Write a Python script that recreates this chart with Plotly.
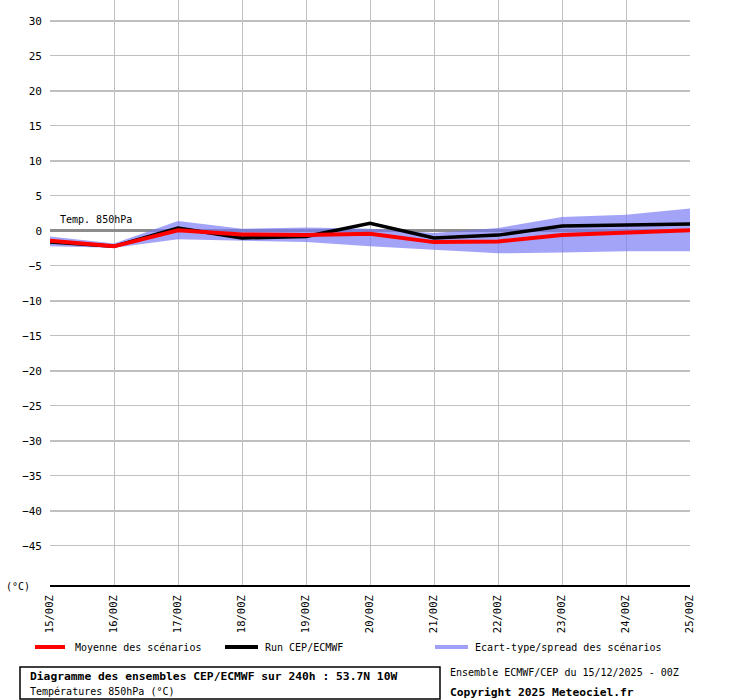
import plotly.graph_objects as go

# echeances (jours a 00Z)
jours = ["15/00Z", "16/00Z", "17/00Z", "18/00Z", "19/00Z", "20/00Z",
         "21/00Z", "22/00Z", "23/00Z", "24/00Z", "25/00Z"]

# temperatures 850hPa (degC)
moyenne = [-1.4, -2.2, 0.1, -0.5, -0.6, -0.4, -1.6, -1.5, -0.6, -0.2, 0.1]
run_cep = [-1.6, -2.2, 0.4, -1.0, -0.8, 1.1, -1.0, -0.6, 0.7, 0.8, 1.0]
spread_haut = [-0.8, -1.8, 1.4, 0.3, 0.5, 0.3, -0.3, 0.4, 2.0, 2.3, 3.2]
spread_bas = [-2.2, -2.4, -1.2, -1.4, -1.6, -2.2, -2.7, -3.2, -3.1, -2.9, -2.9]

yticks = list(range(-45, 31, 5))
yticks10 = list(range(-40, 31, 10))

police = "DejaVu Sans Mono"

fig = go.Figure()

# bande ecart-type
fig.add_trace(go.Scatter(x=jours, y=spread_bas, mode="lines", line=dict(width=0),
                         hoverinfo="skip", showlegend=False))
fig.add_trace(go.Scatter(x=jours, y=spread_haut, mode="lines", line=dict(width=0),
                         fill="tonexty", fillcolor="rgba(120,120,245,0.68)",
                         name="Ecart-type/spread des scénarios", showlegend=False))
fig.add_trace(go.Scatter(x=jours, y=run_cep, mode="lines",
                         line=dict(color="black", width=3.5),
                         name="Run CEP/ECMWF", showlegend=False))
fig.add_trace(go.Scatter(x=jours, y=moyenne, mode="lines",
                         line=dict(color="#ff0000", width=4),
                         name="Moyenne des scénarios", showlegend=False))
# axe secondaire juste pour les grilles epaisses tous les 10
fig.add_trace(go.Scatter(x=[jours[0]], y=[0], yaxis="y2", mode="markers",
                         marker=dict(opacity=0), hoverinfo="skip", showlegend=False))

fig.update_layout(
    width=740, height=700,
    margin=dict(l=50, r=50, t=0, b=115),
    paper_bgcolor="white", plot_bgcolor="white",
    font=dict(family=police, size=10, color="black"),
    xaxis=dict(type="category", range=[0, 10], showgrid=True, gridcolor="#c0c0c0",
               gridwidth=1, tickangle=-90, tickfont=dict(size=10.5),
               showline=True, linecolor="black", linewidth=2, mirror=False,
               ticks="", ticklabelstandoff=4),
    yaxis=dict(range=[-50.6, 33], tickvals=yticks, showgrid=True, gridcolor="#c0c0c0",
               gridwidth=1, zeroline=True, zerolinecolor="#8c8c8c", zerolinewidth=2.5,
               showline=False, ticks="", ticklabelstandoff=7, tickfont=dict(size=11)),
    yaxis2=dict(range=[-50.6, 33], tickvals=yticks10, overlaying="y", anchor="x",
                showgrid=True, gridcolor="#c0c0c0", gridwidth=2, zeroline=False,
                showticklabels=False, showline=False),
)


def px2paper(px, py):
    return (px - 50) / 640, (585 - py) / 585


annots = []
shapes = []

# etiquette dans le graphe
annots.append(dict(x=px2paper(58, 0)[0], y=1.6, xref="paper", yref="y",
                   text="Temp. 850hPa", showarrow=False, xanchor="left",
                   yanchor="middle", font=dict(size=10)))
# unite
annots.append(dict(x=px2paper(4, 0)[0], y=px2paper(0, 586)[1], xref="paper", yref="paper",
                   text="(°C)", showarrow=False, xanchor="left", yanchor="middle",
                   font=dict(size=10)))

# legende manuelle
legende = [("#ff0000", 35, 65, 73, "Moyenne des scénarios"),
           ("black", 225, 258, 263, "Run CEP/ECMWF"),
           ("#a0a0fa", 435, 468, 473, "Ecart-type/spread des scénarios")]
for coul, x0, x1, xt, txt in legende:
    a0 = px2paper(x0, 647)
    a1 = px2paper(x1, 647)
    shapes.append(dict(type="line", xref="paper", yref="paper", x0=a0[0], x1=a1[0],
                       y0=a0[1], y1=a1[1], line=dict(color=coul, width=4)))
    annots.append(dict(x=px2paper(xt, 0)[0], y=a0[1], xref="paper", yref="paper",
                       text=txt, showarrow=False, xanchor="left", yanchor="middle",
                       font=dict(size=10)))

# cadre du titre
b0 = px2paper(20, 667)
b1 = px2paper(440, 699)
shapes.append(dict(type="rect", xref="paper", yref="paper", x0=b0[0], x1=b1[0],
                   y0=b1[1], y1=b0[1], line=dict(color="black", width=1.5)))
annots.append(dict(x=px2paper(28, 0)[0], y=px2paper(0, 677)[1], xref="paper", yref="paper",
                   text="<b>Diagramme des ensembles CEP/ECMWF sur 240h : 53.7N 10W</b>",
                   showarrow=False, xanchor="left", yanchor="middle", font=dict(size=11.3)))
annots.append(dict(x=px2paper(28, 0)[0], y=px2paper(0, 691)[1], xref="paper", yref="paper",
                   text="Températures 850hPa (°C)", showarrow=False, xanchor="left",
                   yanchor="middle", font=dict(size=10)))
annots.append(dict(x=px2paper(448, 0)[0], y=px2paper(0, 672)[1], xref="paper", yref="paper",
                   text="Ensemble ECMWF/CEP du 15/12/2025 - 00Z", showarrow=False,
                   xanchor="left", yanchor="middle", font=dict(size=10)))
annots.append(dict(x=px2paper(448, 0)[0], y=px2paper(0, 692)[1], xref="paper", yref="paper",
                   text="<b>Copyright 2025 Meteociel.fr</b>", showarrow=False,
                   xanchor="left", yanchor="middle", font=dict(size=11.3)))

fig.update_layout(annotations=annots, shapes=shapes)

# la page a une marge par defaut de 8px : on la retire
fig.write_html("out.html", config={"displayModeBar": False},
               post_script="document.body.style.margin='0';")
